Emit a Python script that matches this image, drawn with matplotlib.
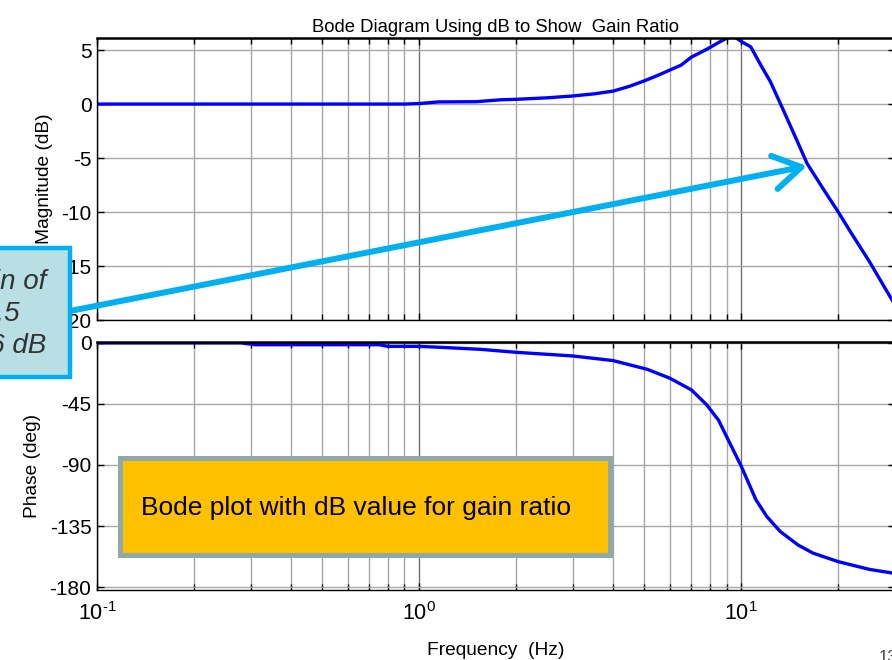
import matplotlib
matplotlib.use("Agg")
import matplotlib.pyplot as plt
import numpy as np
from matplotlib.patches import Rectangle, FancyArrowPatch
from matplotlib.ticker import LogLocator, FixedLocator, FuncFormatter

plt.rcParams['font.family'] = ['Liberation Sans', 'DejaVu Sans']
plt.rcParams['mathtext.fontset'] = 'custom'
plt.rcParams['mathtext.rm'] = 'Liberation Sans'
plt.rcParams['mathtext.it'] = 'Liberation Sans:italic'
plt.rcParams['axes.unicode_minus'] = False

# Frequency response samples
mag_freq_hz = [0.1, 0.2, 0.5, 0.9, 1.0, 1.15, 1.5, 1.8, 2.0, 2.5, 3.0, 3.5, 4.0, 4.5,
               5.0, 5.5, 6.0, 6.5, 7.0, 7.5, 8.0, 8.5, 9.0, 9.5, 10.0, 10.7, 11.5,
               12.3, 13.5, 15.0, 16.0, 18.0, 20.0, 22.0, 25.0, 28.0, 30.0]
mag_db = [0, 0, 0, 0, 0.05, 0.2, 0.22, 0.4, 0.44, 0.58, 0.75, 0.95, 1.2, 1.65,
          2.15, 2.65, 3.15, 3.6, 4.35, 4.8, 5.25, 5.7, 6.1, 6.25, 5.8, 5.3, 3.6,
          2.1, -0.55, -3.6, -5.5, -7.9, -10.0, -12.0, -14.6, -17.1, -18.6]

phase_freq_hz = [0.1, 0.28, 0.31, 0.75, 0.8, 1.0, 1.16, 1.55, 2.0, 3.0, 4.0, 5.1, 6.0,
                 7.0, 7.8, 8.5, 9.0, 10.0, 11.1, 12.0, 13.2, 15.0, 16.7, 20.0, 25.0, 30.0]
phase_deg = [0, 0, -1.3, -1.3, -2.5, -2.5, -3.2, -4.7, -6.9, -9.6, -13, -19.4, -26,
             -34.6, -45.5, -57, -69, -91, -115.6, -128, -139, -149, -155, -161.3,
             -167, -170]

mag_ticks = [-20, -15, -10, -5, 0, 5]
phase_ticks = [-180, -135, -90, -45, 0]

W, H = 892, 660
def fx(px):
    return px / W
def fy(py):
    return 1 - py / H

def decade_label(x, pos):
    exp = int(round(np.log10(x)))
    return r'$\mathdefault{10^{\text{%d}}}$' % exp

fig = plt.figure(figsize=(W / 100, H / 100), dpi=100)
ax_mag = fig.add_axes([fx(97), fy(320), fx(895) - fx(97), fy(38) - fy(320)])
ax_ph = fig.add_axes([fx(97), fy(590), fx(895) - fx(97), fy(342) - fy(590)])

line_blue = '#0000FF'
for ax in (ax_mag, ax_ph):
    ax.set_xscale('log')
    ax.set_xlim(0.1, 30)
    ax.xaxis.set_major_locator(LogLocator(base=10, numticks=10))
    ax.xaxis.set_minor_locator(LogLocator(base=10, subs=np.arange(2, 10), numticks=10))
    ax.xaxis.set_major_formatter(FuncFormatter(decade_label))
    ax.grid(which='major', axis='x', color='#707070', lw=1.0)
    ax.grid(which='minor', axis='x', color='#a8a8a8', lw=1.0)
    ax.grid(which='major', axis='y', color='#a8a8a8', lw=1.0)
    ax.set_axisbelow(True)
    ax.tick_params(which='both', direction='in', top=True, right=True,
                   colors='black', width=1.0)
    ax.tick_params(which='major', length=5)
    ax.tick_params(which='minor', length=4)
    ax.tick_params(axis='y', labelsize=15, pad=4)
    ax.tick_params(axis='x', labelsize=15.5, pad=9)
    for s in ax.spines.values():
        s.set_color('black')
        s.set_linewidth(1.0)
    ax.spines['top'].set_linewidth(1.8)

ax_mag.plot(mag_freq_hz, mag_db, color=line_blue, lw=2.4, solid_joinstyle='round')
ax_mag.set_ylim(-20, 6.12)
ax_mag.yaxis.set_major_locator(FixedLocator(mag_ticks))
ax_mag.set_yticklabels([str(t) for t in mag_ticks])
ax_mag.tick_params(axis='x', labelbottom=False)
ax_mag.set_ylabel('Magnitude (dB)', fontsize=13.8, labelpad=6)
ax_mag.set_title('Bode Diagram Using dB to Show  Gain Ratio', fontsize=13.3, pad=4)

ax_ph.plot(phase_freq_hz, phase_deg, color=line_blue, lw=2.4, solid_joinstyle='round')
ax_ph.set_ylim(-182.2, 0.7)
ax_ph.yaxis.set_major_locator(FixedLocator(phase_ticks))
ax_ph.set_yticklabels([str(t) for t in phase_ticks])
ax_ph.set_ylabel('Phase (deg)', fontsize=13.8, labelpad=6)
ax_ph.set_xlabel('Frequency  (Hz)', fontsize=13.8, labelpad=12)

# Orange caption box
fig.add_artist(Rectangle((fx(120), fy(555)), fx(610) - fx(120), fy(458) - fy(555),
                         transform=fig.transFigure, facecolor='#FFC000',
                         edgecolor='#8FA9AA', lw=3.6, zorder=10))
fig.text(fx(141), fy(508), 'Bode plot with dB value for gain ratio', fontsize=19,
         ha='left', va='center', color='black', zorder=11)

# Callout with arrow pointing at the -6 dB point
fig.add_artist(Rectangle((fx(-70), fy(377)), fx(70) - fx(-70), fy(248) - fy(377),
                         transform=fig.transFigure, facecolor='#B8DFE4',
                         edgecolor='#00B0F0', lw=3.2, zorder=10))
fig.text(fx(1.5), fy(314), 'Gain of\n0.5\n= -6 dB', fontsize=20, style='italic',
         ha='center', va='center', multialignment='center', linespacing=1.3,
         color='#333333', zorder=11)
fig.add_artist(FancyArrowPatch((fx(70), fy(311)), (fx(807), fy(166)),
                               transform=fig.transFigure,
                               arrowstyle='->,head_length=0.9,head_width=0.55',
                               mutation_scale=22, color='#00B0F0', lw=4.3,
                               shrinkA=0, shrinkB=0, zorder=9))

fig.text(fx(879), fy(650), '13', fontsize=12, ha='left', va='top', color='#404040')

fig.savefig('out.png', dpi=100)
